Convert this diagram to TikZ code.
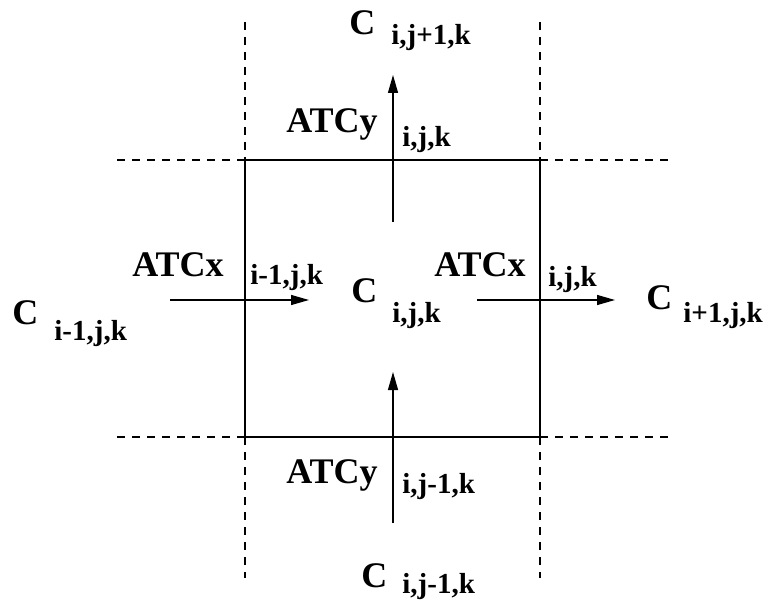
\documentclass[tikz,border=0pt]{standalone}
\usepackage{fontspec}
\setmainfont{Liberation Serif}
\usetikzlibrary{arrows.meta}

\tikzset{
  big/.style={font=\fontsize{18}{21}\selectfont\bfseries, inner sep=0pt, anchor=base west},
  idx/.style={font=\fontsize{14.5}{17}\selectfont\bfseries, inner sep=0pt, anchor=base west},
  flux/.style={-{Triangle[length=9pt,width=5pt]}, line width=0.65pt},
  cell/.style={dash pattern=on 4pt off 3.5pt, line width=0.55pt}
}

\begin{document}
\begin{tikzpicture}[x=0.5pt, y=-0.5pt]
\useasboundingbox (0,0) rectangle (769,608);

% control volume (i,j,k) and the neighbouring cell faces
\draw[line width=0.55pt] (245,160) rectangle (540,437);
\foreach \x in {245,540} {
  \draw[cell] (\x,22) -- (\x,160);
  \draw[cell] (\x,437) -- (\x,578);
}
\foreach \y in {160,437} {
  \draw[cell] (117,\y) -- (245,\y);
  \draw[cell] (540,\y) -- (668,\y);
}

% cell concentrations
\node[big] (Cw) at (12,325) {C};
\node[idx] (Cwsub) at (54,341) {i-1,j,k};
\node[big] (Cc) at (351,303) {C};
\node[idx] (Ccsub) at (392,323) {i,j,k};
\node[big] (Ce) at (646,310) {C};
\node[idx] (Cesub) at (683,323) {i+1,j,k};
\node[big] (Cn) at (349,35) {C};
\node[idx] (Cnsub) at (391,45) {i,j+1,k};
\node[big] (Cs) at (361,587) {C};
\node[idx] (Cssub) at (402,593) {i,j-1,k};

% transport through the faces
\node[big] (ATCxw) at (132,277) {ATCx};
\node[idx] (ATCxwsub) at (250,285) {i-1,j,k};
\node[big] (ATCxe) at (434,277) {ATCx};
\node[idx] (ATCxesub) at (548,287) {i,j,k};
\node[big] (ATCyn) at (286,133) {ATCy};
\node[idx] (ATCynsub) at (402,147) {i,j,k};
\node[big] (ATCys) at (286,483) {ATCy};
\node[idx] (ATCyssub) at (402,493) {i,j-1,k};

\coordinate (wtail) at (170,300);
\coordinate (whead) at (309,300);
\coordinate (etail) at (477,300);
\coordinate (ehead) at (615,300);
\coordinate (ntail) at (393,222);
\coordinate (nhead) at (393,75);
\coordinate (stail) at (393,523);
\coordinate (shead) at (393,372);

\draw[flux] (wtail) -- (whead);
\draw[flux] (etail) -- (ehead);
\draw[flux] (ntail) -- (nhead);
\draw[flux] (stail) -- (shead);
\end{tikzpicture}
\end{document}
